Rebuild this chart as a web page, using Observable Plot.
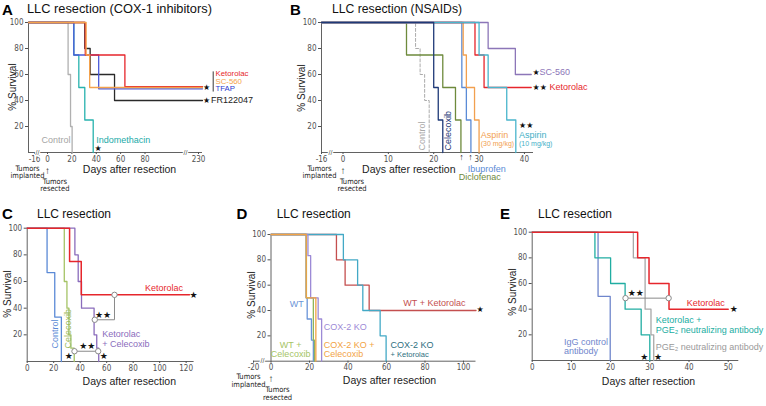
<!DOCTYPE html>
<html><head><meta charset="utf-8">
<script src="https://cdn.jsdelivr.net/npm/d3@7"></script>
<script src="https://cdn.jsdelivr.net/npm/@observablehq/plot@0.6"></script>
<style>
body{margin:0;background:#fff;}
#fig{position:relative;width:766px;height:406px;overflow:hidden;font-family:"Liberation Sans",Arial,Helvetica,sans-serif;color:#111;background:#fff;}
.h{position:absolute;white-space:nowrap;line-height:1;}
</style></head><body><div id="fig"></div>
<script>
// ================= DATA (days after resection, % survival) =================
// Panel A – COX-1 inhibitors
const aTicksX = [-16, 0, 20, 40, 60, 80, 230];
const aControl      = [[-19,100],[16.9,60],[18.9,20],[20.2,0]];
const aIndomethacin = [[-19,100],[21.6,75],[25.7,50],[30.6,25],[37.5,0]];
const aFR122047     = [[-19,100],[30.6,80],[35,60],[55,40],[238,40]];
const aTFAP         = [[-19,100],[21.6,75],[42,49],[238,49]];
const aKetorolac    = [[-19,100],[31,75],[63.5,50.7],[238,50.7]];
const aSC560        = [[-19,100],[31.7,75],[34.6,50],[238,50]];
// Panel B – NSAIDs
const bTicksX = [-16, 0, 10, 20, 30, 40];
const bControl    = [[-16,100],[16,80],[17,60],[18,40],[19,0]];
const bDiclofenac = [[-16,100],[14,75],[22,50],[24.8,25],[26,0]];
const bIbuprofen  = [[-16,100],[26.2,50],[27.2,25],[28.2,0]];
const bAspirin30  = [[-16,100],[26.5,75],[27.2,50],[29,25],[30,0]];
const bKetorolac  = [[-16,100],[29.1,75],[31.1,50],[41.5,50]];
const bSC560      = [[-16,100],[32,80],[38,60],[41.5,60]];
const bAspirin10  = [[-16,100],[30,75],[32,50],[36.1,25],[38.1,0]];
const bCelecoxib  = [[-16,100],[20,50],[21,25],[22,0]];
// Panel C
const cTicksX = [0, 20, 40, 60, 80, 100, 120];
const cControl   = [[0,100],[15,66.7],[20.8,33.3],[25.8,0]];
const cCelecoxib = [[0,100],[28,60],[30,40],[31.5,20],[33,10],[35.5,0]];
const cKetCel    = [[0,100],[36,80],[38.5,60],[41,40],[50.5,20],[52.5,10],[54,0]];
const cKetorolac = [[0,100],[32,75],[40.8,50],[122.5,50]];
const cBracketHi = [[51,31.3],[65.9,31.3],[65.9,50]];
const cBracketLo = [[35.7,7.7],[53.6,7.7]];
// Panel D
const dTicksX = [-20, 0, 20, 40, 60, 80, 100];
const dWTKet     = [[0,100],[34,80],[38.5,60],[51,40],[106.5,40]];
const dKOKet     = [[0,100],[37.6,80],[45,60],[47.7,40],[56.7,20],[59.8,0]];
const dWT        = [[0,100],[18.2,50],[18.8,33.3],[21,16.7],[22,0]];
const dWTCel     = [[0,100],[18.4,50],[22,16.7],[22.6,0]];
const dKO        = [[0,100],[19.2,83.3],[20.6,50],[24.5,33.3],[26.3,0]];
const dKOCel     = [[0,100],[18.3,50],[23.3,0]];
// Panel E
const eTicksX = [0, 10, 20, 30, 40, 50];
const eIgG       = [[0,100],[16.8,50],[19.9,0]];
const eKetPGE2   = [[0,100],[16,80],[20,60],[23.7,40],[27.8,20],[30,0]];
const ePGE2      = [[0,100],[25.8,80],[28.8,40],[30.3,20],[31,0]];
const eKetorolac = [[0,100],[26.9,80],[29.8,60],[34.9,40],[50,40]];
const eBracket   = [[23.8,48.6],[34.8,48.6]];
const yTicks = [20, 40, 60, 80, 100];

// ================= RENDER =================
const fig = document.getElementById("fig");
const SANS = '"Liberation Sans",Arial,Helvetica,sans-serif';
const NARROW = '"Liberation Sans Narrow","Arial Narrow","DejaVu Sans Condensed","Liberation Sans",sans-serif';
const STARF = '"DejaVu Sans",sans-serif';
const AX = "#505050";

function T(x, y, t, fill, o = {}) {
  return Plot.text([{x, y, t}], {x: "x", y: "y", text: "t", fill, fontSize: 9, fontFamily: SANS, textAnchor: "start", ...o});
}
function S(x, y, n = 1, o = {}) {
  return Plot.text([{x, y, t: "\u2605".repeat(n)}], {x: "x", y: "y", text: "t", fill: "#111", fontSize: 8, fontFamily: STARF, ...o});
}
function note(x, t, o) {
  return Plot.text([{x, y: 0, t}], {x: "x", y: "y", text: "t", fill: "#222", fontSize: 7.5, fontFamily: NARROW, lineHeight: 1, ...o});
}
function brk(x) {
  return Plot.text([{x, y: 0}], {x: "x", y: "y", text: () => "//", fill: AX, fontSize: 7, fontFamily: SANS, stroke: "white", strokeWidth: 2.5, paintOrder: "stroke"});
}
function panel(p) {
  const [L, Tp, W, H] = p.box;
  const xr = p.xRange.map(v => v - L);
  const y0 = p.yRange[0] - Tp, y1 = p.yRange[1] - Tp;
  const dom = p.xDomain;
  const marks = [
    Plot.ruleY([0], {x1: dom[0], x2: dom[dom.length - 1], stroke: AX, strokeWidth: 0.9}),
    Plot.ruleX([p.yAxisAt], {y1: 0, y2: 100, stroke: AX, strokeWidth: 0.9}),
    Plot.axisY(yTicks, {anchor: "left", tickSize: 3, tickPadding: 2, fontSize: 8, color: AX, label: null, tickFormat: d => String(d)}),
    Plot.axisX(p.xTicks, {anchor: "bottom", tickSize: 2, tickPadding: 1.5, fontSize: 8, color: AX, label: null, tickFormat: d => String(d)}),
    ...(p.breaks || []).map(brk),
    ...p.series.map(s => Plot.line(s.data, {x: d => d[0], y: d => d[1], curve: "step-after", stroke: s.color, strokeWidth: s.w || 1.3, strokeDasharray: s.dash})),
    ...p.extras
  ];
  const svg = Plot.plot({
    width: W, height: H,
    marginLeft: p.yAxisPx - L, marginRight: W - xr[xr.length - 1], marginTop: y1, marginBottom: H - y0,
    x: {type: "linear", domain: dom, range: xr},
    y: {type: "linear", domain: [0, 100], range: [y0, y1]},
    style: {fontFamily: NARROW, overflow: "visible", background: "transparent", color: "#333"},
    marks
  });
  svg.style.position = "absolute";
  svg.style.left = L + "px";
  svg.style.top = Tp + "px";
  fig.append(svg);
}
function html(t, x, y, css, mode) {
  const d = document.createElement("div");
  d.className = "h";
  d.textContent = t;
  d.style.cssText += `left:${x}px;top:${y}px;${css}`;
  d.style.transform = mode === "c" ? "translate(-50%,-50%)" : mode === "r" ? "translate(-50%,-50%) rotate(-90deg)" : "translate(0,-50%)";
  fig.append(d);
}

// colours
const RED = "#e6262c", ORANGE = "#f4a24c", GRAY = "#b0b0b0";

// ---------- Panel A ----------
panel({
  box: [0, 0, 256, 200], xDomain: [-19, -16, 0, 80, 230, 238], xRange: [28, 34, 47, 144.5, 198, 202],
  yRange: [152, 22], yAxisAt: -19, yAxisPx: 28, xTicks: aTicksX, breaks: [-12.3, 193.5],
  series: [
    {data: aControl, color: GRAY},
    {data: aIndomethacin, color: "#27b2ae"},
    {data: aFR122047, color: "#2a2a2a"},
    {data: aTFAP, color: "#4b5ad8"},
    {data: aKetorolac, color: RED},
    {data: aSC560, color: ORANGE}
  ],
  extras: [
    T(18.9, 9.2, "Control", "#a5a5a5", {textAnchor: "end"}),
    T(40, 9.2, "Indomethacin", "#22aaa8"),
    S(41.6, 2.8),
    T(238, 60.8, "Ketorolac", RED, {dx: 13, fontSize: 7.8}),
    T(238, 55, "SC-560", ORANGE, {dx: 13, fontSize: 7.8}),
    T(238, 49.2, "TFAP", "#2c3bd0", {dx: 13, fontSize: 7.8}),
    Plot.ruleX([238], {y1: 46.5, y2: 62, dx: 10.7, stroke: "#222", strokeWidth: 0.9}),
    S(238, 50, 1, {dx: 4}),
    S(238, 40, 1, {dx: 4}),
    T(238, 40, "FR122047", "#222", {dx: 8.5}),
    note(-16, "Tumors\nimplanted", {dx: -7, dy: 19.5}),
    note(0, "\u2191", {dy: 18, fontSize: 10, fontFamily: SANS, fontWeight: "bold"}),
    note(0, "Tumors\nresected", {dx: 7.3, dy: 32.5})
  ]
});

// ---------- Panel B ----------
panel({
  box: [255, 0, 360, 200], xDomain: [-16, 0, 42], xRange: [321, 342.5, 533],
  yRange: [152, 22], yAxisAt: -16, yAxisPx: 321, xTicks: bTicksX, breaks: [-9.3],
  series: [
    {data: bControl, color: "#ababab", dash: "3,2", w: 1},
    {data: bDiclofenac, color: "#6e8a3c"},
    {data: bIbuprofen, color: "#5b8bd6"},
    {data: bAspirin30, color: "#f2a04f"},
    {data: bKetorolac, color: RED},
    {data: bSC560, color: "#8c76b8"},
    {data: bAspirin10, color: "#4ab5cc"},
    {data: bCelecoxib, color: "#1f3a78"}
  ],
  extras: [
    T(17.45, 1.5, "Control", "#a8a8a8", {rotate: -90}),
    T(23.1, 1.5, "Celecoxib", "#1f3a78", {rotate: -90}),
    T(30.35, 13, "Aspirin", "#f2a04f"),
    T(30.35, 6.7, "(30 mg/kg)", "#f2a04f", {fontSize: 7}),
    T(38.8, 13, "Aspirin", "#3fafc6"),
    T(38.8, 6.7, "(10 mg/kg)", "#3fafc6", {fontSize: 7}),
    S(38.8, 20.8, 2, {textAnchor: "start"}),
    S(42, 61.5, 1, {textAnchor: "start", dx: -1}),
    T(42, 61.5, "SC-560", "#8c76b8", {dx: 6}),
    S(42, 50, 2, {textAnchor: "start", dx: -1}),
    T(42, 50, "Ketorolac", RED, {dx: 16}),
    note(26.1, "\u2191", {dy: 5, fontSize: 9, fontFamily: SANS}),
    note(28.1, "\u2191", {dy: 5, fontSize: 9, fontFamily: SANS}),
    T(27.5, 0, "Ibuprofen", "#5b8bd6", {dy: 16.5}),
    T(25.5, 0, "Diclofenac", "#6e8a3c", {dy: 25}),
    note(-16, "Tumors\nimplanted", {dx: -2, dy: 19.5}),
    note(0, "\u2191", {dy: 18, fontSize: 10, fontFamily: SANS, fontWeight: "bold"}),
    note(0, "Tumors\nresected", {dx: 9, dy: 32.5})
  ]
});

// ---------- Panel C ----------
const BR = "#8a8a8a";
panel({
  box: [0, 200, 240, 206], xDomain: [0, 126], xRange: [26.7, 193.6],
  yRange: [361, 227.7], yAxisAt: 0, yAxisPx: 26.7, xTicks: cTicksX,
  series: [
    {data: cControl, color: "#5b8ad6"},
    {data: cCelecoxib, color: "#a5c466"},
    {data: cKetCel, color: "#8a6cbc"},
    {data: cKetorolac, color: RED, w: 1.5}
  ],
  extras: [
    Plot.line(cBracketHi, {x: d => d[0], y: d => d[1], stroke: BR, strokeWidth: 1}),
    Plot.line(cBracketLo, {x: d => d[0], y: d => d[1], stroke: BR, strokeWidth: 1}),
    Plot.dot([cBracketHi[0], cBracketHi[2], ...cBracketLo], {x: d => d[0], y: d => d[1], r: 2.7, stroke: BR, fill: "white", strokeWidth: 1}),
    T(117.7, 55.3, "Ketorolac", RED, {textAnchor: "end"}),
    S(125.5, 50, 1, {fontSize: 9}),
    T(56.6, 17.3, "Ketorolac\n+ Celecoxib", "#8a6cbc", {lineHeight: 1.2}),
    T(20.8, 9.75, "Control", "#5b8ad6", {rotate: -90}),
    T(30.9, 9.75, "Celecoxib", "#98b85a", {rotate: -90}),
    S(57.2, 34.5, 2, {fontSize: 9}),
    S(45.3, 11.5, 2, {fontSize: 9}),
    S(31.4, 3.75, 1, {fontSize: 9}),
    S(57.8, 3.75, 1, {fontSize: 9})
  ]
});

// ---------- Panel D ----------
panel({
  box: [230, 200, 270, 206], xDomain: [-20, 0, 106.5], xRange: [253, 270.5, 475.5],
  yRange: [360.7, 234], yAxisAt: 0, yAxisPx: 270.5, xTicks: dTicksX, breaks: [-9.7],
  series: [
    {data: dWTKet, color: "#c44f4f"},
    {data: dKOKet, color: "#43a9c6"},
    {data: dWT, color: "#6a94d8"},
    {data: dWTCel, color: "#8fb45a"},
    {data: dKO, color: "#9d8ad6"},
    {data: dKOCel, color: "#f2a345"}
  ],
  extras: [
    T(17, 45, "WT", "#6a94d8", {textAnchor: "end"}),
    T(27.4, 26.8, "COX-2 KO", "#9d8ad6"),
    T(10.2, 8.8, "WT +\nCelecoxib", "#a5c466", {textAnchor: "middle", lineHeight: 1}),
    T(27.4, 8.8, "COX-2 KO +\nCelecoxib", "#f2a345", {lineHeight: 1}),
    T(101, 46, "WT + Ketorolac", "#c44f4f", {textAnchor: "end"}),
    S(106.5, 40.8, 1, {dx: 4}),
    T(62.1, 12.4, "COX-2 KO", "#2e6f80"),
    T(62.1, 5.3, "+ Ketorolac", "#2e6f80", {fontSize: 7.5}),
    note(-20, "Tumors\nimplanted", {dx: -5, dy: 19.5}),
    note(0, "\u2191", {dy: 18, fontSize: 10, fontFamily: SANS, fontWeight: "bold"}),
    note(0, "Tumors\nresected", {dx: 6.5, dy: 32.5})
  ]
});

// ---------- Panel E ----------
panel({
  box: [500, 200, 266, 206], xDomain: [0, 52.7], xRange: [531.7, 738.3],
  yRange: [360, 231.7], yAxisAt: 0, yAxisPx: 531.7, xTicks: eTicksX,
  series: [
    {data: eIgG, color: "#6f86cc"},
    {data: eKetPGE2, color: "#21ada2"},
    {data: ePGE2, color: "#a8a8a8"},
    {data: eKetorolac, color: RED, w: 1.5}
  ],
  extras: [
    Plot.line(eBracket, {x: d => d[0], y: d => d[1], stroke: BR, strokeWidth: 1}),
    Plot.dot(eBracket, {x: d => d[0], y: d => d[1], r: 2.7, stroke: BR, fill: "white", strokeWidth: 1}),
    T(49.1, 45, "Ketorolac", RED, {textAnchor: "end"}),
    S(51.4, 39.7, 1, {fontSize: 9}),
    T(31.5, 31.2, "Ketorolac +", "#21ada2"),
    T(31.5, 23.4, "PGE\u2082 neutralizing antibody", "#21ada2"),
    T(31.5, 10.6, "PGE\u2082 neutralizing antibody", "#9a9a9a"),
    T(8.1, 10.75, "IgG control\nantibody", "#6f86cc", {lineHeight: 1}),
    S(26.4, 52.5, 2, {fontSize: 9}),
    S(28.6, 2.4, 1, {fontSize: 9}),
    S(32.1, 2.4, 1, {fontSize: 9})
  ]
});

// ---------- titles, letters, axis titles ----------
const LET = "font-weight:bold;font-size:15px;color:#000;";
html("A", 2, 8.5, LET); html("B", 290, 8.5, LET); html("C", 2, 212.5, LET); html("D", 236.5, 212.5, LET); html("E", 500, 212.5, LET);
html("LLC resection (COX-1 inhibitors)", 27, 9, "font-size:12.8px;color:#111;");
html("LLC resection (NSAIDs)", 332, 9, "font-size:12.2px;color:#111;");
html("LLC resection", 37, 214, "font-size:12px;color:#111;");
html("LLC resection", 276.7, 214, "font-size:12px;color:#111;");
html("LLC resection", 538, 214, "font-size:12px;color:#111;");
const AXT = "font-size:10.5px;color:#222;";
html("Days after resection", 129.5, 169, AXT, "c");
html("Days after resection", 408.8, 169, AXT, "c");
html("Days after resection", 129.3, 381, AXT, "c");
html("Days after resection", 389.5, 380, AXT, "c");
html("Days after resection", 648.5, 381, AXT, "c");
const SV = "font-size:10px;color:#222;";
html("% Survival", 13, 86.7, SV, "r");
html("% Survival", 301.7, 88.3, SV, "r");
html("% Survival", 8.3, 294, SV, "r");
html("% Survival", 251.5, 295, SV, "r");
html("% Survival", 513.3, 291.7, SV, "r");
</script></body></html>
